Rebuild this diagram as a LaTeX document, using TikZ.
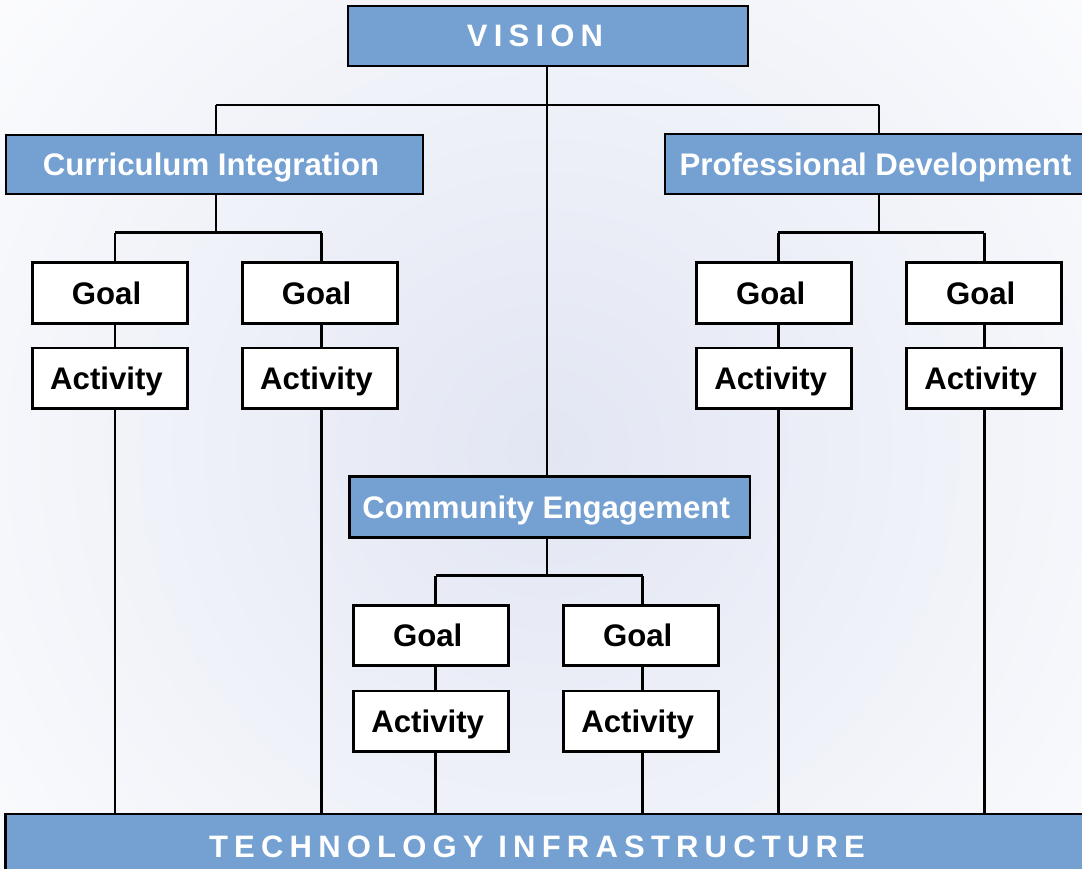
\documentclass[tikz,border=0pt]{standalone}
\usepackage{fontspec}
\setmainfont{Liberation Sans}
\newfontfamily\spacedfont[LetterSpace=20]{Liberation Sans}
\definecolor{boxblue}{HTML}{74A0D2}
\definecolor{glow}{HTML}{E2E6F3}
\pgfdeclarelayer{bg}
\pgfsetlayers{bg,main}
\begin{document}
\begin{tikzpicture}[x=1pt,y=-1pt,
  every node/.style={inner sep=0pt, outer sep=0pt, font=\fontsize{31.2}{36}\selectfont\bfseries},
  leftshift/.style={execute at end node={\hspace*{7pt}}},
  bluebox/.style={draw=black, line width=2.8pt, fill=boxblue, text=white, text height=22.3pt, text depth=0pt, leftshift},
  whitebox/.style={draw=black, line width=2.8pt, fill=white, text=black, minimum width=155pt, minimum height=60.5pt, text height=22.3pt, text depth=0pt, leftshift},
  conn/.style={draw=black, line width=2.6pt},
  spaced/.style={font=\fontsize{31}{36}\selectfont\bfseries\spacedfont, text=white}]
\useasboundingbox (0,0) rectangle (1082,868);

% boxes (nodes)
\node[bluebox, minimum width=400pt, minimum height=60pt] (vision) at (548,36) {};
\node[spaced] (visiontxt) at (535,36) {VISION};
\node[bluebox, minimum width=417pt, minimum height=59pt] (ci) at (214.5,164.5) {Curriculum Integration};
\node[bluebox, minimum width=428pt, minimum height=60pt] (pd) at (879,164) {Professional Development};
\node[bluebox, minimum width=400.7pt, minimum height=61pt] (ce) at (549.7,507.2) {Community Engagement};
\node[bluebox, minimum width=1100pt, minimum height=70pt, anchor=north west] (ti) at (5.5,814) {};
\node[spaced] (titxt) at (537,846.5) {TECHNOLOGY INFRASTRUCTURE};

\node[whitebox] (g1) at (110,293) {Goal};
\node[whitebox] (a1) at (110,378.2) {Activity};
\node[whitebox] (g2) at (320,293) {Goal};
\node[whitebox] (a2) at (320,378.2) {Activity};
\node[whitebox] (g3) at (774.2,293) {Goal};
\node[whitebox] (a3) at (774.2,378.2) {Activity};
\node[whitebox] (g4) at (984.2,293) {Goal};
\node[whitebox] (a4) at (984.2,378.2) {Activity};
\node[whitebox] (g5) at (431.2,635.5) {Goal};
\node[whitebox] (a5) at (431.2,721.2) {Activity};
\node[whitebox] (g6) at (641.2,635.5) {Goal};
\node[whitebox] (a6) at (641.2,721.2) {Activity};

% junction coordinates
\coordinate (topbar) at (547,105);
\coordinate (tl) at (216,105);
\coordinate (tr) at (879,105);
\coordinate (cibar) at (216,232.7);
\coordinate (b1) at (115,232.7);
\coordinate (b2) at (321.7,232.7);
\coordinate (pdbar) at (879,232.7);
\coordinate (b3) at (778.3,232.7);
\coordinate (b4) at (984.3,232.7);
\coordinate (cebar) at (547,575.5);
\coordinate (b5) at (435.7,575.5);
\coordinate (b6) at (642.7,575.5);

\begin{pgfonlayer}{bg}
\fill[white] (0,0) rectangle (1082,868);
\begin{scope}
\clip (0,0) rectangle (1082,868);
\shade[inner color=glow, outer color=white] (548,450) circle (820pt);
\end{scope}
\draw[conn] (vision.south -| topbar) -- (topbar);
\draw[conn] (tl) -- (tr);
\draw[conn] (tl) -- (tl |- ci.north);
\draw[conn] (tr) -- (tr |- pd.north);
\draw[conn] (topbar) -- (topbar |- ce.north);
% CI branch
\draw[conn] (cibar |- ci.south) -- (cibar);
\draw[conn] (b1) -- (b2);
\draw[conn] (b1) -- (b1 |- g1.north);
\draw[conn] (b1 |- g1.south) -- (b1 |- a1.north);
\draw[conn] (b1 |- a1.south) -- (b1 |- ti.north);
\draw[conn] (b2) -- (b2 |- g2.north);
\draw[conn] (b2 |- g2.south) -- (b2 |- a2.north);
\draw[conn] (b2 |- a2.south) -- (b2 |- ti.north);
% PD branch
\draw[conn] (pdbar |- pd.south) -- (pdbar);
\draw[conn] (b3) -- (b4);
\draw[conn] (b3) -- (b3 |- g3.north);
\draw[conn] (b3 |- g3.south) -- (b3 |- a3.north);
\draw[conn] (b3 |- a3.south) -- (b3 |- ti.north);
\draw[conn] (b4) -- (b4 |- g4.north);
\draw[conn] (b4 |- g4.south) -- (b4 |- a4.north);
\draw[conn] (b4 |- a4.south) -- (b4 |- ti.north);
% CE branch
\draw[conn] (cebar |- ce.south) -- (cebar);
\draw[conn] (b5) -- (b6);
\draw[conn] (b5) -- (b5 |- g5.north);
\draw[conn] (b5 |- g5.south) -- (b5 |- a5.north);
\draw[conn] (b5 |- a5.south) -- (b5 |- ti.north);
\draw[conn] (b6) -- (b6 |- g6.north);
\draw[conn] (b6 |- g6.south) -- (b6 |- a6.north);
\draw[conn] (b6 |- a6.south) -- (b6 |- ti.north);
\end{pgfonlayer}
\end{tikzpicture}
\end{document}
